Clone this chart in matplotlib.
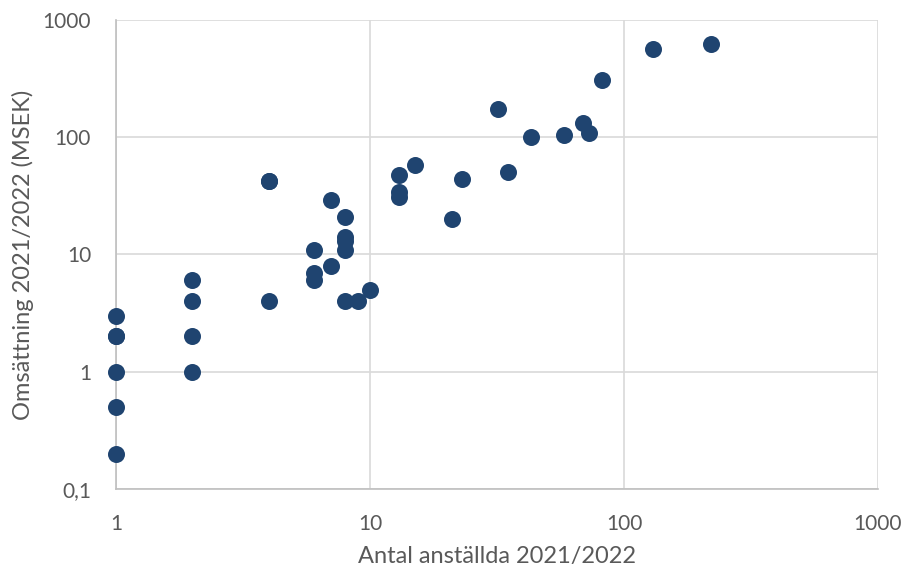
import matplotlib
matplotlib.use("Agg")
import matplotlib.pyplot as plt
from matplotlib.ticker import FixedLocator, FixedFormatter, NullLocator

# ── data ──────────────────────────────────────────────────────────────────────
employees = [1, 1, 1, 1, 1, 1,
             2, 2, 2, 2,
             4, 4, 4,
             6, 6, 6, 7, 7, 8, 8, 8, 8, 8, 9, 10,
             13, 13, 13, 15, 21, 23, 32, 35, 43, 58, 69, 73, 82, 130, 220]
turnover = [3, 2, 2, 1, 0.5, 0.2,
            6, 4, 2, 1,
            42, 42, 4,
            11, 7, 6, 29, 8, 21, 14, 13, 11, 4, 4, 5,
            48, 34, 31, 58, 20, 44, 175, 51, 100, 104, 133, 108, 310, 560, 620]

tick_vals = [0.1, 1, 10, 100, 1000]
y_tick_labels = ["0,1", "1", "10", "100", "1000"]
x_tick_vals = [1, 10, 100, 1000]
x_tick_labels = ["1", "10", "100", "1000"]

plt.rcParams["font.family"] = ["Lato", "DejaVu Sans"]
text_col = "#595959"

fig = plt.figure(figsize=(9.03, 5.69), dpi=100)
ax = fig.add_axes([0.1285, 0.1406, 0.8438, 0.8243])

ax.scatter(employees, turnover, s=150, color="#1F4470", zorder=3,
           linewidths=0, clip_on=False)

ax.set_xscale("log")
ax.set_yscale("log")
ax.set_xlim(1, 1000)
ax.set_ylim(0.1, 1000)

ax.xaxis.set_major_locator(FixedLocator(x_tick_vals))
ax.xaxis.set_major_formatter(FixedFormatter(x_tick_labels))
ax.yaxis.set_major_locator(FixedLocator(tick_vals))
ax.yaxis.set_major_formatter(FixedFormatter(y_tick_labels))
ax.xaxis.set_minor_locator(NullLocator())
ax.yaxis.set_minor_locator(NullLocator())

ax.grid(True, color="#D9D9D9", linewidth=1.2, zorder=0)
ax.set_axisbelow(True)
for side in ("top", "right"):
    ax.spines[side].set_visible(False)
for side in ("left", "bottom"):
    ax.spines[side].set_color("#BFBFBF")
    ax.spines[side].set_linewidth(1.2)

ax.tick_params(axis="both", length=0, labelsize=15, colors=text_col)
ax.tick_params(axis="y", pad=18)
ax.tick_params(axis="x", pad=18)

ax.set_xlabel("Antal anställda 2021/2022", fontsize=17, color=text_col, labelpad=9)
ax.set_ylabel("Omsättning 2021/2022 (MSEK)", fontsize=17, color=text_col, labelpad=6)

fig.savefig("out.png", dpi=100)
